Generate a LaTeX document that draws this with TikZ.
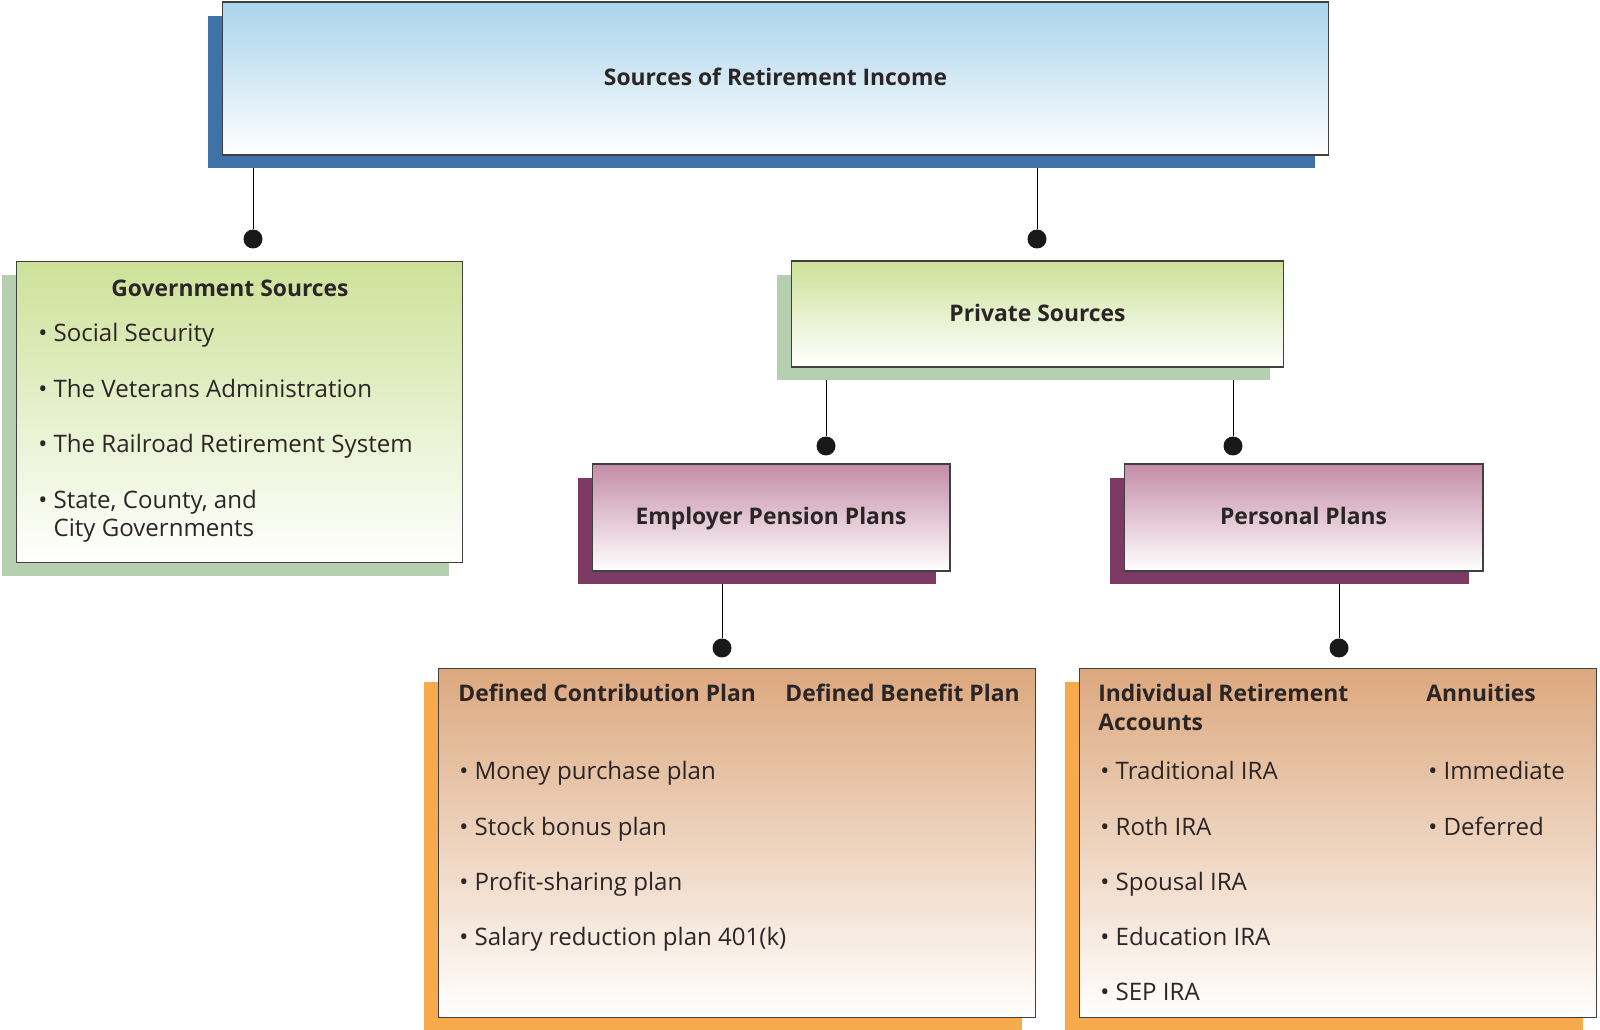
\documentclass[tikz,border=0pt]{standalone}
\usepackage{fontspec}
\setmainfont{Open Sans}
\usetikzlibrary{positioning,shadows,backgrounds}

\definecolor{txt}{HTML}{2B2526}
\definecolor{blueTop}{HTML}{A9D3EA}
\definecolor{blueShade}{HTML}{3F72A6}
\definecolor{greenTop}{HTML}{CDE199}
\definecolor{greenShade}{HTML}{B6CFB1}
\definecolor{plumTop}{HTML}{C48CA7}
\definecolor{plumShade}{HTML}{7D3A63}
\definecolor{tanTop}{HTML}{DCA87E}
\definecolor{tanShade}{HTML}{F6AA4C}

\begin{document}
\begin{tikzpicture}[x=0.02cm, y=-0.02cm,
	box/.style={draw=black!75, line width=0.6pt, rectangle, inner sep=0pt, text=txt,
		text height=10pt, text depth=1.6pt,
		font=\bfseries\fontsize{13}{16.5}\selectfont,
		general shadow={fill=#1, shadow xshift=-0.28cm, shadow yshift=-0.27cm}},
	head/.style={inner sep=0pt, text=txt, align=left, font=\bfseries\fontsize{13}{16}\selectfont},
	item/.style={inner sep=0pt, text=txt, align=left, font=\fontsize{13.7}{16.5}\selectfont},
	dot/.style={circle, fill=black!90, inner sep=0pt, minimum size=0.38cm}]
	
	\useasboundingbox (0,0) rectangle (1600,1030);
	
	% Boxes
	\node[box=blueShade, top color=blueTop, bottom color=white, minimum width=22.14cm, minimum height=3.06cm] (top) at (775.5,78.5) {Sources of Retirement Income};
	
	\node[box=greenShade, top color=greenTop, bottom color=white, minimum width=8.94cm, minimum height=6.04cm] (gov) at (239.5,412) {};
	\node[box=greenShade, top color=greenTop, bottom color=white, minimum width=9.86cm, minimum height=2.12cm] (priv) at (1037.5,314) {Private Sources};
	
	\node[box=plumShade, top color=plumTop, bottom color=white, minimum width=7.16cm, minimum height=2.14cm] (emp) at (771,517.5) {Employer Pension Plans};
	\node[box=plumShade, top color=plumTop, bottom color=white, minimum width=7.18cm, minimum height=2.14cm] (pers) at (1303.5,517.5) {Personal Plans};
	
	\node[box=tanShade, top color=tanTop, bottom color=white, minimum width=11.96cm, minimum height=7cm] (dcb) at (737,843) {};
	\node[box=tanShade, top color=tanTop, bottom color=white, minimum width=10.36cm, minimum height=7cm] (ira) at (1338,843) {};
	
	% Government list
	\node[head] (govT) at (230,288) {Government Sources};
	\node[item, anchor=base west] (gov1) at (38,342) {• Social Security};
	\node[item, anchor=base west] (gov2) at (38,398) {• The Veterans Administration};
	\node[item, anchor=base west] (gov3) at (38,453) {• The Railroad Retirement System};
	\node[item, anchor=base west] (gov4) at (38,537) {• State, County, and\\\hphantom{• }City Governments};
	
	% Employer plans
	\node[head, anchor=base west] (dcT) at (458,701) {Defined Contribution Plan};
	\node[head, anchor=base west] (dbT) at (785,701) {Defined Benefit Plan};
	\node[item, anchor=base west] (dc1) at (459,779) {• Money purchase plan};
	\node[item, anchor=base west] (dc2) at (459,835) {• Stock bonus plan};
	\node[item, anchor=base west] (dc3) at (459,890) {• Profit-sharing plan};
	\node[item, anchor=base west] (dc4) at (459,945) {• Salary reduction plan 401(k)};
	
	% Personal plans
	\node[head, anchor=base west] (iraT) at (1098,730) {Individual Retirement\\Accounts};
	\node[head, anchor=base west] (annT) at (1426,701) {Annuities};
	\node[item, anchor=base west] (ira1) at (1100,779) {• Traditional IRA};
	\node[item, anchor=base west] (ira2) at (1100,835) {• Roth IRA};
	\node[item, anchor=base west] (ira3) at (1100,890) {• Spousal IRA};
	\node[item, anchor=base west] (ira4) at (1100,945) {• Education IRA};
	\node[item, anchor=base west] (ira5) at (1100,1000) {• SEP IRA};
	\node[item, anchor=base west] (ann1) at (1428,779) {• Immediate};
	\node[item, anchor=base west] (ann2) at (1428,835) {• Deferred};
	
	% Dots
	\node[dot] (d1) at (253,239) {};
	\node[dot] (d2) at (1037,239) {};
	\node[dot] (d3) at (826,446) {};
	\node[dot] (d4) at (1233,446) {};
	\node[dot] (d5) at (722,648) {};
	\node[dot] (d6) at (1339,648) {};
	
	% Connectors
	\begin{scope}[on background layer, line width=2pt, black!90]
		\draw (top.south -| d1) -- (d1);
		\draw (top.south -| d2) -- (d2);
		\draw (priv.south -| d3) -- (d3);
		\draw (priv.south -| d4) -- (d4);
		\draw (emp.south -| d5) -- (d5);
		\draw (pers.south -| d6) -- (d6);
	\end{scope}
	
\end{tikzpicture}
\end{document}
